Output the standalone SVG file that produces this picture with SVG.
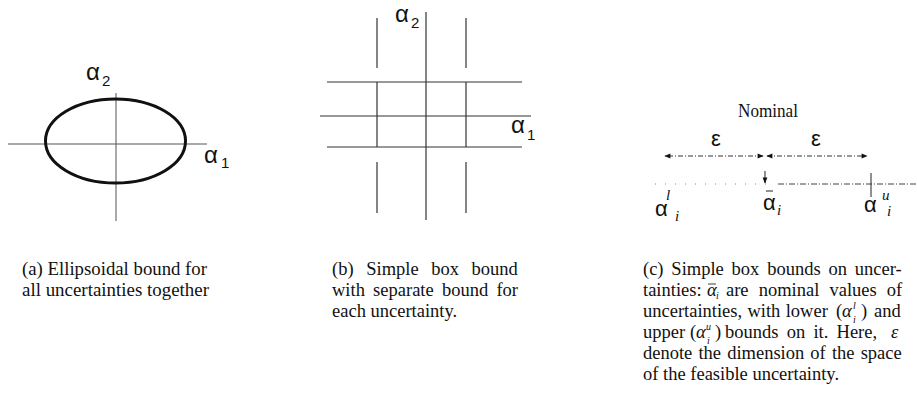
<svg xmlns="http://www.w3.org/2000/svg" width="917" height="400" viewBox="0 0 917 400">
<style>
.ax{stroke:#555;stroke-width:1;fill:none}
.bx{stroke:#333;stroke-width:1.2;fill:none}
.greek{font-family:"Liberation Sans","DejaVu Sans",sans-serif;font-size:24px;fill:#111}
.glab{font-family:"Liberation Sans","DejaVu Sans",sans-serif;font-size:22px;fill:#111}
.sub{font-family:"Liberation Sans","DejaVu Sans",sans-serif;font-size:15px;fill:#111}
.isub{font-family:"Liberation Serif","DejaVu Serif",serif;font-style:italic;font-size:15px;fill:#111}
.cap{font-family:"Liberation Serif","DejaVu Serif",serif;font-size:18.5px;fill:#111}
.mi{font-family:"Liberation Serif","DejaVu Serif",serif;font-style:italic;font-size:18.5px;fill:#111}
.ms{font-family:"Liberation Serif","DejaVu Serif",serif;font-style:italic;font-size:10px;fill:#111}
.arr{stroke:#333;stroke-width:1;fill:none;stroke-dasharray:5 2 1 2}
</style>
<defs>
<marker id="ah" viewBox="0 0 10 10" refX="9" refY="5" markerWidth="8" markerHeight="6" orient="auto-start-reverse" markerUnits="userSpaceOnUse">
<path d="M0,1 L10,5 L0,9 z" fill="#111"/>
</marker>
</defs>

<g id="panel-a">
<line class="ax" x1="8" y1="144" x2="207" y2="144"/>
<line class="ax" x1="116" y1="93" x2="116" y2="221"/>
<ellipse cx="115.5" cy="141" rx="70" ry="42" fill="none" stroke="#111" stroke-width="3"/>
<text class="greek" x="86" y="80">α</text><text class="sub" x="102" y="86">2</text>
<text class="greek" x="204" y="163">α</text><text class="sub" x="221" y="168">1</text>
</g>

<g id="panel-b">
<line class="bx" x1="327" y1="82" x2="522" y2="82"/>
<line class="bx" x1="320" y1="116" x2="531" y2="116"/>
<line class="bx" x1="327" y1="147" x2="522" y2="147"/>
<line class="bx" x1="377" y1="18" x2="377" y2="68"/>
<line class="bx" x1="377" y1="82" x2="377" y2="147"/>
<line class="bx" x1="377" y1="162" x2="377" y2="213"/>
<line class="bx" x1="426" y1="12" x2="426" y2="220"/>
<line class="bx" x1="466" y1="18" x2="466" y2="68"/>
<line class="bx" x1="466" y1="82" x2="466" y2="147"/>
<line class="bx" x1="466" y1="162" x2="466" y2="213"/>
<text class="greek" x="395" y="22">α</text><text class="sub" x="411" y="28">2</text>
<text class="greek" x="511" y="133">α</text><text class="sub" x="527" y="140">1</text>
</g>

<g id="panel-c">
<text class="cap" x="738" y="117" textLength="60" lengthAdjust="spacingAndGlyphs">Nominal</text>
<text class="glab" x="711" y="146" font-size="18">ε</text>
<text class="glab" x="811" y="146" font-size="18">ε</text>
<line stroke="#888" stroke-width="1" stroke-dasharray="1 9" x1="655" y1="184" x2="772" y2="184"/>
<line stroke="#444" stroke-width="1" stroke-dasharray="6 2 1 2" x1="778" y1="184" x2="917" y2="184"/>
<line stroke="#222" stroke-width="1" x1="871" y1="173" x2="871" y2="197"/>
<text class="glab" x="655" y="216">α</text>
<text class="isub" x="666" y="200">l</text>
<text class="isub" x="675" y="221">i</text>
<text class="glab" x="763" y="210">α</text>
<line stroke="#222" stroke-width="1" x1="766" y1="191" x2="773" y2="191"/>
<text class="isub" x="777" y="215">i</text>
<text class="glab" x="864" y="212">α</text>
<text class="isub" x="882" y="200">u</text>
<text class="isub" x="887" y="216">i</text>
</g>

<g id="connectors">
<line class="arr" x1="763" y1="156" x2="665" y2="156" marker-start="url(#ah)" marker-end="url(#ah)"/>
<line class="arr" x1="767" y1="156" x2="867" y2="156" marker-start="url(#ah)" marker-end="url(#ah)"/>
<line stroke="#222" stroke-width="1" x1="765" y1="171" x2="765" y2="183" marker-end="url(#ah)"/>
</g>

<g id="caption-a">
<text class="cap" x="22" y="275" textLength="185" lengthAdjust="spacingAndGlyphs">(a) Ellipsoidal bound for</text>
<text class="cap" x="22" y="296" textLength="187" lengthAdjust="spacingAndGlyphs">all uncertainties together</text>
</g>

<g id="caption-b">
<text class="cap" x="332" y="275" word-spacing="8">(b) Simple box bound</text>
<text class="cap" x="332" y="296" word-spacing="3.6">with separate bound for</text>
<text class="cap" x="332" y="317">each uncertainty.</text>
</g>

<g id="caption-c">
<text class="cap" x="643" y="275" word-spacing="3.2">(c) Simple box bounds on uncer-</text>
<text class="cap" x="643" y="296">tainties:</text>
<text class="mi" x="707" y="296">α</text>
<line stroke="#111" stroke-width="0.8" x1="708" y1="284" x2="716" y2="284"/>
<text class="ms" x="716" y="299">i</text>
<text class="cap" x="726" y="296" word-spacing="5.5">are nominal values of</text>
<text class="cap" x="643" y="317" word-spacing="0.7">uncertainties, with lower</text>
<text class="cap" x="836" y="317">(</text>
<text class="mi" x="842" y="317">α</text>
<text class="ms" x="853" y="309">l</text>
<text class="ms" x="853" y="323">i</text>
<text class="cap" x="861" y="317">)</text>
<text class="cap" x="874" y="317">and</text>
<text class="cap" x="643" y="338">upper</text>
<text class="cap" x="690" y="338">(</text>
<text class="mi" x="696" y="338">α</text>
<text class="ms" x="706" y="330">u</text>
<text class="ms" x="707" y="344">i</text>
<text class="cap" x="715" y="338">)</text>
<text class="cap" x="725" y="338" word-spacing="3.6">bounds on it. Here,</text>
<text class="mi" x="891" y="338">ε</text>
<text class="cap" x="643" y="359" word-spacing="1.5">denote the dimension of the space</text>
<text class="cap" x="643" y="380">of the feasible uncertainty.</text>
</g>
</svg>
